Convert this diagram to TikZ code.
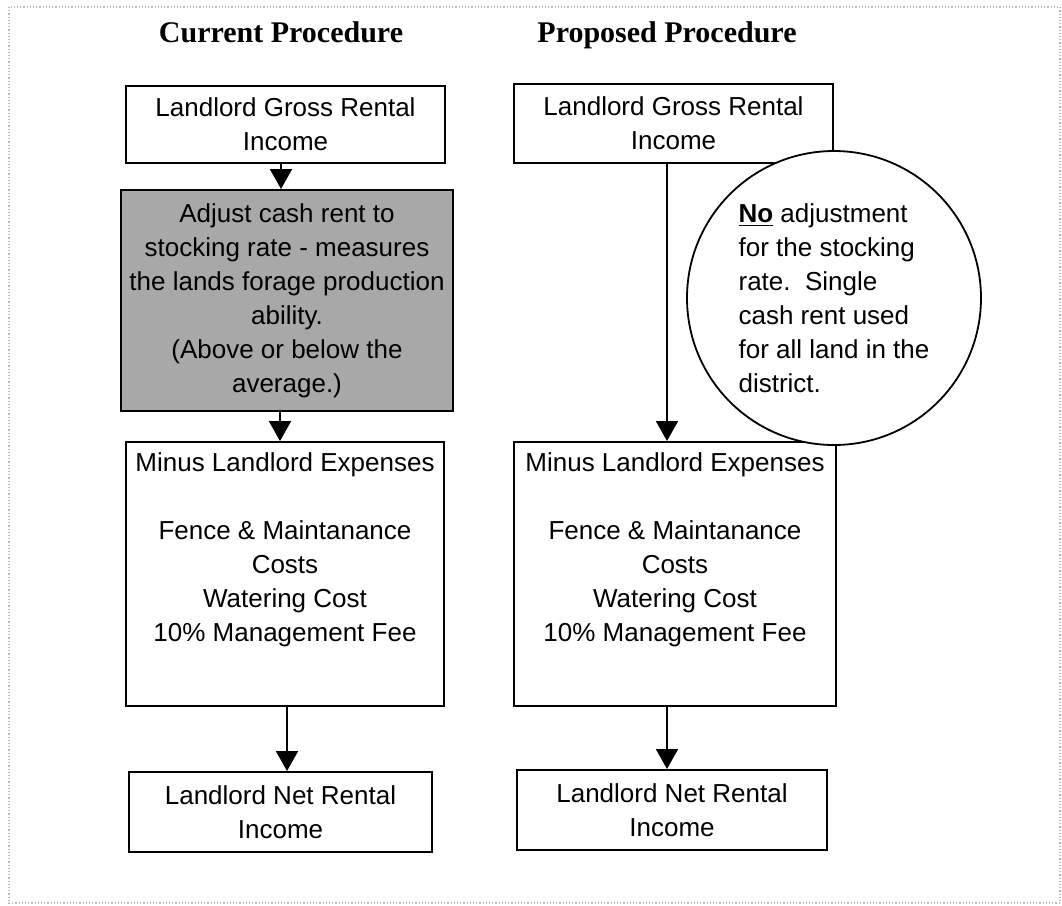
\documentclass[tikz,border=0pt]{standalone}
\usepackage{fontspec}
\setmainfont{Liberation Sans}
\newfontfamily\titlefont{Liberation Serif}
\usetikzlibrary{arrows.meta}
\definecolor{shade}{RGB}{168,168,168}
\begin{document}
\begin{tikzpicture}[x=0.5pt,y=-0.5pt,
  every node/.style={font=\fontsize{13}{17}\selectfont, align=center},
  box/.style={draw, line width=1pt, inner sep=0pt},
  greybox/.style={box, fill=shade},
  words/.style={inner sep=0pt, anchor=north},
  heading/.style={font=\titlefont\bfseries\fontsize{15}{18}\selectfont, anchor=base, inner sep=0pt},
  flow/.style={line width=1pt, -{Triangle[width=11pt,length=10pt]}},
  note/.style={draw, circle, line width=0.9pt, fill=white, minimum size=147pt, inner sep=0pt, align=left}]
\useasboundingbox (0,0) rectangle (1062,906);
\draw[gray!55, densely dotted, line width=0.6pt] (9,7) rectangle (1060,903);

% column headings
\node[heading] (hcur) at (281,42) {Current Procedure};
\node[heading] (hpro) at (667,42) {Proposed Procedure};

% current procedure
\node[box, minimum width=159.5pt, minimum height=38.5pt] (cg) at (285.5,124.5) {Landlord Gross Rental\\Income};
\node[greybox, minimum width=166pt, minimum height=110.5pt] (ca) at (287,300.5)
  {Adjust cash rent to\\stocking rate - measures\\the lands forage production\\ability.\\(Above or below the\\average.)};
\node[box, minimum width=159pt, minimum height=132pt] (ce) at (285,574) {};
\node[words] (cet) at ([yshift=-5.7pt]ce.north)
  {Minus Landlord Expenses\\[17pt]Fence \& Maintanance\\Costs\\Watering Cost\\10\% Management Fee};
\node[box, minimum width=151.5pt, minimum height=40pt] (cn) at (280.5,812) {Landlord Net Rental\\Income};

\draw[flow] ([xshift=-2.25pt]cg.south) -- ([xshift=-2.25pt]cg.south |- ca.north);
\draw[flow] ([xshift=-3.5pt]ca.south) -- ([xshift=-3.5pt]ca.south |- ce.north);
\draw[flow] ([xshift=1pt]ce.south) -- ([xshift=1pt]ce.south |- cn.north);

% proposed procedure
\node[box, minimum width=159.5pt, minimum height=39.5pt] (pg) at (673.5,123.5) {Landlord Gross Rental\\Income};
\node[box, minimum width=161pt, minimum height=132pt] (pe) at (675,574) {};
\node[words] (pet) at ([yshift=-5.7pt]pe.north)
  {Minus Landlord Expenses\\[17pt]Fence \& Maintanance\\Costs\\Watering Cost\\10\% Management Fee};
\node[box, minimum width=155pt, minimum height=40pt] (pn) at (672,810) {Landlord Net Rental\\Income};

\draw[flow] ([xshift=-3.25pt]pg.south) -- ([xshift=-3.25pt]pg.south |- pe.north);
\draw[flow] ([xshift=-4pt]pe.south) -- ([xshift=-4pt]pe.south |- pn.north);

% remark on the proposed procedure
\node[note] (nb) at (834,298)
  {\underline{\textbf{No}} adjustment\\for the stocking\\rate.\ \ Single\\cash rent used\\for all land in the\\district.};
\end{tikzpicture}
\end{document}
